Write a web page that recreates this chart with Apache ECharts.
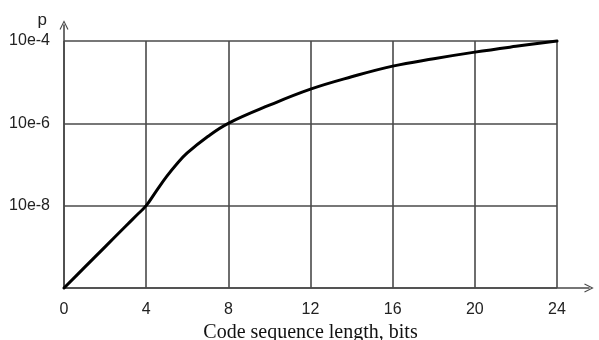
<!DOCTYPE html>
<html>
<head>
<meta charset="utf-8">
<script src="https://cdn.jsdelivr.net/npm/echarts@6/dist/echarts.min.js"></script>
<style>
  html, body { margin: 0; padding: 0; background: #fff; }
  #chart { width: 599px; height: 340px; }
</style>
</head>
<body>
<div id="chart"></div>
<script>
// Code sequence length (bits) and log10 of the probability p
const bits = [0, 1, 2, 3, 3.5, 4, 4.5, 5, 5.5, 6, 7, 8, 10, 12, 14, 16, 18, 20, 22, 24];
const logP = [-10, -9.5, -9.0, -8.5, -8.25, -8.0, -7.64, -7.29, -6.98, -6.72, -6.32, -6.0, -5.56, -5.17, -4.87, -4.61, -4.43, -4.27, -4.13, -4.0];

// Labels shown on the probability axis (bottom level left blank)
const yTickLabels = { '-4': '10e-4', '-6': '10e-6', '-8': '10e-8' };
const xTitle = 'Code sequence length, bits';
const yTitle = 'p';

const gridColor = '#4a4a4a';
const sansFont = '"Liberation Sans", Arial, sans-serif';
const serifFont = '"Liberation Serif", "Times New Roman", serif';

// Open chevron used as the arrow head on both axes (tip at the top)
const chevron = 'path://M0,10 L5,0 L10,10 L8.8,10.6 L5,2.6 L1.2,10.6 Z';

const chart = echarts.init(document.getElementById('chart'), null, { renderer: 'canvas' });

chart.setOption({
  animation: false,
  backgroundColor: '#ffffff',
  grid: [
    { left: 64, right: 42, top: 41, bottom: 52, outerBoundsMode: 'none', containLabel: false },
    { left: 64, right: 10, top: 25, bottom: 52, outerBoundsMode: 'none', containLabel: false }
  ],
  xAxis: [
    {
      type: 'value', gridIndex: 0,
      min: 0, max: 24, interval: 4,
      axisLine: { show: false },
      axisTick: { show: false },
      axisLabel: { color: '#222', fontSize: 16, fontFamily: sansFont, margin: 14 },
      splitLine: { show: true, lineStyle: { color: gridColor, width: 1.6 } },
      name: xTitle,
      nameLocation: 'middle',
      nameGap: 34,
      nameTextStyle: { color: '#111', fontSize: 20, fontFamily: serifFont }
    },
    {
      type: 'value', gridIndex: 1, min: 0, max: 1,
      axisLine: {
        show: true, onZero: false,
        symbol: ['none', chevron], symbolSize: [9, 10],
        lineStyle: { color: gridColor, width: 1.6 }
      },
      axisTick: { show: false },
      axisLabel: { show: false },
      splitLine: { show: false }
    }
  ],
  yAxis: [
    {
      type: 'value', gridIndex: 0,
      min: -10, max: -4, interval: 2,
      axisLine: { show: false },
      axisTick: { show: false },
      axisLabel: {
        color: '#222', fontSize: 16, fontFamily: sansFont, margin: 14,
        formatter: v => yTickLabels[String(v)] || ''
      },
      splitLine: { show: true, lineStyle: { color: gridColor, width: 1.6 } }
    },
    {
      type: 'value', gridIndex: 1, min: 0, max: 1,
      axisLine: {
        show: true, onZero: false,
        symbol: ['none', chevron], symbolSize: [9, 10],
        lineStyle: { color: gridColor, width: 1.6 }
      },
      axisTick: { show: false },
      axisLabel: { show: false },
      splitLine: { show: false },
      name: yTitle,
      nameLocation: 'end',
      nameGap: -4,
      nameTextStyle: { color: '#222', fontSize: 17, fontFamily: sansFont, align: 'right', padding: [0, 17, 0, 0] }
    }
  ],
  series: [
    {
      type: 'line',
      xAxisIndex: 0, yAxisIndex: 0,
      data: bits.map((b, i) => [b, logP[i]]),
      smooth: 0.4,
      showSymbol: false,
      symbol: 'none',
      clip: false,
      lineStyle: { color: '#000', width: 3, cap: 'round', join: 'round' }
    }
  ]
});
</script>
</body>
</html>
